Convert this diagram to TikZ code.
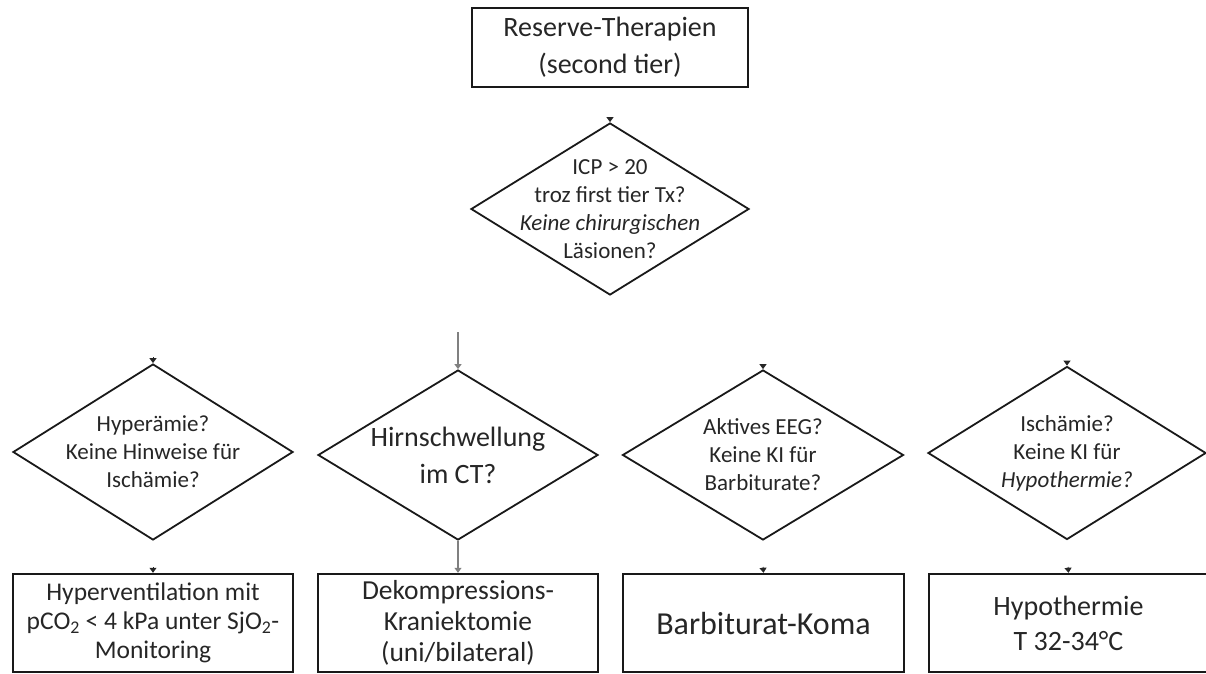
\documentclass[tikz,border=0pt]{standalone}
\usepackage{fontspec}
\setmainfont{Carlito}
\usetikzlibrary{shapes.geometric,arrows.meta}

\tikzset{
  frage/.style={shape=diamond, draw=black!90, line width=1.8pt, inner xsep=-80pt, inner ysep=-40pt,
    minimum width=280pt, minimum height=172pt, align=center, text=black!85,
    font=\fontsize{23}{28}\selectfont},
  kasten/.style={rectangle, draw=black!90, line width=2.4pt, inner sep=0pt,
    minimum width=280pt, minimum height=98pt, align=center, text=black!85},
  spitze/.style={-{Triangle[width=7pt,length=5pt]}, line width=1pt, black!85},
  grauspitze/.style={-{Triangle[width=7pt,length=5pt]}, line width=2pt, black!50}
}

\begin{document}
\begin{tikzpicture}[x=1pt,y=-1pt]
\useasboundingbox (0,0) rectangle (1206,673);

\node[kasten, minimum width=276pt, minimum height=79pt, font=\fontsize{28}{37}\selectfont] (reserve) at (610,47.5) {Reserve-Therapien\\(second tier)};

\node[frage, minimum width=278pt] (icp) at (610,209) {ICP > 20\\troz first tier Tx?\\\textit{Keine chirurgischen}\\Läsionen?};

\node[frage, minimum height=176pt] (hyper) at (153,452) {Hyperämie?\\Keine Hinweise für\\Ischämie?};
\node[frage, minimum height=170pt, font=\fontsize{28}{37}\selectfont] (schwell) at (458,455) {Hirnschwellung\\im CT?};
\node[frage, minimum height=170pt, minimum width=281pt] (eeg) at (763,455) {Aktives EEG?\\Keine KI für\\Barbiturate?};
\node[frage, minimum height=173pt, minimum width=278pt] (isch) at (1067,453) {Ischämie?\\Keine KI für\\\textit{Hypothermie?}};

\node[kasten, font=\fontsize{25.5}{29}\selectfont] (hv) at (153,623) {Hyperventilation mit\\pCO\textsubscript{2} < 4 kPa unter SjO\textsubscript{2}-\\Monitoring};
\node[kasten, font=\fontsize{27.5}{31}\selectfont] (dek) at (458,623) {Dekompressions-\\Kraniektomie\\(uni/bilateral)};
\node[kasten, minimum width=281pt, font=\fontsize{32}{38}\selectfont] (barb) at (763.5,623) {Barbiturat-Koma};
\node[kasten, minimum width=279pt, font=\fontsize{28}{35}\selectfont] (hypo) at (1068.5,623) {Hypothermie\\T 32-34°C};

% nur Pfeilspitzen sichtbar
\coordinate (t0) at (610,117);
\coordinate (t1) at (153,357);
\coordinate (bus2) at (458,332);
\coordinate (t3) at (763,364);
\coordinate (t4) at (1067,361);
\coordinate (u1) at (153,567);
\coordinate (u3) at (763,567);
\coordinate (u4) at (1068,567);

\draw[spitze] (t0) -- (icp.north);
\draw[spitze] (t1) -- (hyper.north);
\draw[grauspitze] (bus2) -- (schwell.north);
\draw[spitze] (t3) -- (eeg.north);
\draw[spitze] (t4) -- (isch.north);
\draw[spitze] (u1) -- (hv.north);
\draw[grauspitze] (schwell.south) -- (dek.north);
\draw[spitze] (u3) -- (barb.north);
\draw[spitze] (u4) -- (hypo.north);
\end{tikzpicture}
\end{document}
